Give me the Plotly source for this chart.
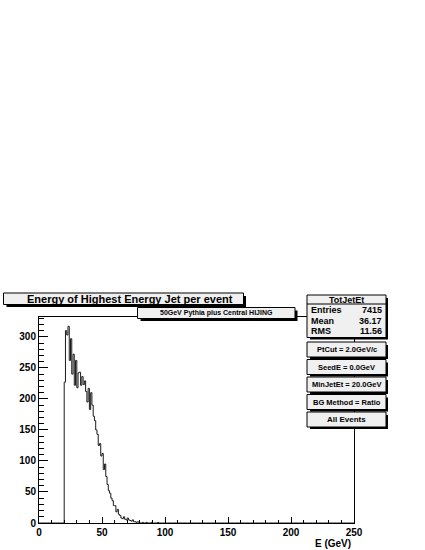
import plotly.graph_objects as go

# histogram contents, 1 GeV bins starting at 20 GeV
first_bin = 20
counts = [227, 310, 303, 317, 262, 297, 240, 272, 222, 262,
          218, 242, 243, 222, 236, 223, 229, 212, 195, 217,
          183, 210, 190, 172, 165, 150, 143, 125, 128, 108,
          112, 86, 95, 75, 62, 52, 48, 40, 36, 28,
          28, 18, 22, 14, 12, 8, 7, 10, 6, 5,
          8, 5, 4, 3, 5, 2, 2, 1, 2, 1,
          0, 0, 1, 0, 0, 1, 0, 0, 0, 1,
          0, 0, 0, 0, 1]
n_bins = 250

title = "Energy of Highest Energy Jet per event"
subtitle = "50GeV Pythia plus Central HIJING"
stats_name = "TotJetEt"
stat_names = ["Entries", "Mean", "RMS"]
stat_values = ["7415", "36.17", "11.56"]
cut_labels = ["PtCut = 2.0GeV/c", "SeedE = 0.0GeV", "MinJetEt = 20.0GeV",
              "BG Method = Ratio", "All Events"]
x_title = "E (GeV)"

full = [0] * first_bin + counts
full = full + [0] * (n_bins - len(full))
edges = list(range(0, n_bins + 1))

FONT = "Liberation Sans"

# frame in pixels
L, R, T, B = 39, 354, 317, 523


def px(x):
    return (x - L) / (R - L)


def py(y):
    return (B - y) / (B - T)


fig = go.Figure()
fig.add_trace(go.Scatter(x=edges, y=full + [full[-1]], mode="lines",
                         line=dict(color="#1a1a1a", width=1, shape="hv"),
                         hoverinfo="skip", showlegend=False))

shapes = []
annotations = []


def pave(x0, y0, x1, y1, shadow=2.5):
    shapes.append(dict(type="rect", xref="paper", yref="paper",
                       x0=px(x0 + 3), x1=px(x1 + shadow), y0=py(y0 + 3), y1=py(y1 + shadow),
                       fillcolor="black", line=dict(width=0), layer="above"))
    shapes.append(dict(type="rect", xref="paper", yref="paper",
                       x0=px(x0), x1=px(x1), y0=py(y0), y1=py(y1),
                       fillcolor="#f0f0f0", line=dict(color="black", width=1), layer="above"))


def text(s, x, y, size, anchor="center"):
    annotations.append(dict(text=s, x=px(x), y=py(y), xref="paper", yref="paper",
                            xanchor=anchor, yanchor="middle", showarrow=False,
                            font=dict(family=FONT, size=size, color="black", weight="bold")))


# title and subtitle
pave(3.5, 293, 243.5, 304.5)
text(title, 130, 299, 11)
pave(137.5, 307.5, 295, 318.5)
text(subtitle, 216, 313, 7)

# stats box
pave(307, 295, 386, 337.5, shadow=2)
shapes.append(dict(type="line", xref="paper", yref="paper",
                   x0=px(307), x1=px(386), y0=py(304), y1=py(304),
                   line=dict(color="black", width=1), layer="above"))
text(stats_name, 346.5, 299.5, 9)
for i, (nm, v) in enumerate(zip(stat_names, stat_values)):
    yy = 310 + i * 10.5
    text(nm, 309, yy, 9, "left")
    text(v, 384, yy, 9, "right")

# cut boxes
for i, lab in enumerate(cut_labels):
    y0 = 342 + i * 17.5
    pave(307, y0, 386, y0 + 15, shadow=2)
    text(lab, 346.5, y0 + 7.5, 8 if lab == "All Events" else 7.5)

text(x_title, 353, 543, 10, "right")

fig.update_layout(
    width=425, height=550,
    margin=dict(l=L, r=425 - R, t=T, b=550 - B, pad=0),
    paper_bgcolor="white", plot_bgcolor="white",
    shapes=shapes, annotations=annotations,
    font=dict(family=FONT, size=10, color="black", weight="bold"),
    xaxis=dict(range=[0, 250], dtick=50, ticks="inside", ticklen=6, tickcolor="black",
               minor=dict(dtick=10, ticks="inside", ticklen=3, tickcolor="black"),
               showline=True, mirror=True, linecolor="black", linewidth=1,
               showgrid=False, zeroline=False,
               tickfont=dict(family=FONT, size=10, color="black", weight="bold")),
    yaxis=dict(range=[0, 332], dtick=50, ticks="inside", ticklen=9, tickcolor="black",
               minor=dict(dtick=10, ticks="inside", ticklen=4.5, tickcolor="black"),
               showline=True, mirror=True, linecolor="black", linewidth=1,
               showgrid=False, zeroline=False,
               tickfont=dict(family=FONT, size=10, color="black", weight="bold")),
)

fig.write_html("out.html", config={"displayModeBar": False},
               post_script="document.body.style.margin='0';document.body.style.overflow='hidden';")
